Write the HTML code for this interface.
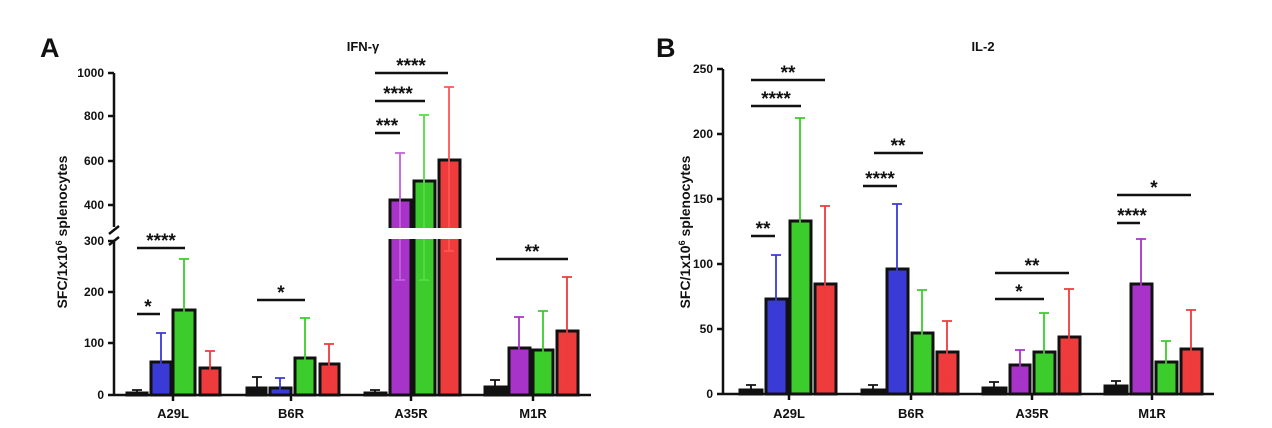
<!DOCTYPE html>
<html><head><meta charset="utf-8"><style>
body{margin:0;background:#fff}
svg{display:block}
text{font-family:"Liberation Sans",Arial,sans-serif;font-weight:bold;fill:#111}
.t{font-size:12px;text-anchor:end}
.c{font-size:13px;text-anchor:middle}
.s{font-size:19px;text-anchor:middle;letter-spacing:0px}
.ax{stroke:#111;stroke-width:2.5;fill:none}
.sig{stroke:#111;stroke-width:2.5}
.bar{stroke:#111;stroke-width:3}
</style></head><body>
<svg width="1272" height="428" viewBox="0 0 1272 428">
<!-- Panel A -->
<text x="40" y="57" style="font-size:27px">A</text>
<text x="363" y="51" class="c" style="font-size:13px">IFN-γ</text>
<text transform="translate(67,232) rotate(-90)" style="font-size:14px;text-anchor:middle">SFC/1x10<tspan dy="-5" style="font-size:9px">6</tspan><tspan dy="5"> splenocytes</tspan></text>
<path class="ax" d="M114 395V241M114 227V73M108 395H114M108 343H114M108 292H114M108 241H114M108 205H114M108 161H114M108 116H114M108 73H114"/>
<path d="M109 234L119 226M109 245L119 237" stroke="#111" stroke-width="2.5"/>
<path class="ax" d="M114 395H591M173 395V401M291 395V401M411 395V401M533 395V401"/>
<g class="t"><text x="104" y="399" class="t">0</text><text x="104" y="347" class="t">100</text><text x="104" y="296" class="t">200</text><text x="104" y="245" class="t">300</text><text x="104" y="209" class="t">400</text><text x="104" y="165" class="t">600</text><text x="104" y="120" class="t">800</text><text x="104" y="77" class="t">1000</text></g>
<g class="c"><text x="173" y="418" class="c">A29L</text><text x="291" y="418" class="c">B6R</text><text x="411" y="418" class="c">A35R</text><text x="533" y="418" class="c">M1R</text></g>
<!-- bars A -->
<g>
<path d="M137 390V395M132 390H142" stroke="#111" stroke-width="1.8"/>
<rect class="bar" x="127" y="393" width="20" height="2" fill="#111"/>
<rect class="bar" x="151" y="362" width="20" height="33" fill="#3a3ad6"/>
<path d="M161 333V388M156 333H166" stroke="#3a3ad6" stroke-width="1.8"/>
<rect class="bar" x="173" y="310" width="22" height="85" fill="#3ccc2c"/>
<path d="M184 259V360M179 259H189" stroke="#3ccc2c" stroke-width="1.8"/>
<rect class="bar" x="200" y="368" width="20" height="27" fill="#ee3b3b"/>
<path d="M210 351V382M205 351H215" stroke="#ee3b3b" stroke-width="1.8"/>

<path d="M257 377V388M252 377H262" stroke="#111" stroke-width="1.8"/>
<rect class="bar" x="247" y="388" width="19" height="7" fill="#111"/>
<rect class="bar" x="270" y="388" width="21" height="7" fill="#3a3ad6"/>
<path d="M280 378V392M275 378H285" stroke="#3a3ad6" stroke-width="1.8"/>
<rect class="bar" x="295" y="358" width="20" height="37" fill="#3ccc2c"/>
<path d="M305 318V380M300 318H310" stroke="#3ccc2c" stroke-width="1.8"/>
<rect class="bar" x="320" y="364" width="19" height="31" fill="#ee3b3b"/>
<path d="M329 344V384M324 344H334" stroke="#ee3b3b" stroke-width="1.8"/>

<path d="M375 390V393M370 390H380" stroke="#111" stroke-width="1.8"/>
<rect class="bar" x="365" y="393" width="21" height="2" fill="#111"/>
<rect class="bar" x="390" y="200" width="21" height="195" fill="#a733c9"/>
<path d="M400 153V280M395 153H405M395 280H405" stroke="#c060dd" stroke-width="1.8"/>
<rect class="bar" x="414" y="181" width="21" height="214" fill="#3ccc2c"/>
<path d="M424 115V280M419 115H429M419 280H429" stroke="#55dd44" stroke-width="1.8"/>
<rect class="bar" x="439" y="160" width="21" height="235" fill="#ee3b3b"/>
<path d="M449 87V251M444 87H454M444 251H454" stroke="#f55" stroke-width="1.8"/>
<rect x="380" y="228" width="90" height="11" fill="#fff"/>

<path d="M495 380V387M490 380H500" stroke="#111" stroke-width="1.8"/>
<rect class="bar" x="485" y="387" width="21" height="8" fill="#111"/>
<rect class="bar" x="509" y="348" width="21" height="47" fill="#a733c9"/>
<path d="M519 317V379M514 317H524" stroke="#a733c9" stroke-width="1.8"/>
<rect class="bar" x="533" y="350" width="20" height="45" fill="#3ccc2c"/>
<path d="M543 311V387M538 311H548" stroke="#3ccc2c" stroke-width="1.8"/>
<rect class="bar" x="557" y="331" width="21" height="64" fill="#ee3b3b"/>
<path d="M567 277V385M562 277H572" stroke="#ee3b3b" stroke-width="1.8"/>
</g>
<!-- sig A -->
<path class="sig" d="M137 314H160M137 248H185M257 300H305M496 259H568M375 133H400M375 101H425M375 73H448"/>
<text x="148" y="313" class="s">*</text><text x="161" y="247" class="s">****</text><text x="281" y="299" class="s">*</text><text x="532" y="258" class="s">**</text>
<text x="387" y="132" class="s">***</text><text x="398" y="100" class="s">****</text><text x="411" y="72" class="s">****</text>

<!-- Panel B -->
<text x="656" y="57" style="font-size:27px">B</text>
<text x="983" y="51" class="c">IL-2</text>
<text transform="translate(690,232) rotate(-90)" style="font-size:14px;text-anchor:middle">SFC/1x10<tspan dy="-5" style="font-size:9px">6</tspan><tspan dy="5"> splenocytes</tspan></text>
<path class="ax" d="M723 394V69M717 394H723M717 329H723M717 264H723M717 199H723M717 134H723M717 69H723M723 394H1214M789 394V400M911 394V400M1032 394V400M1152 394V400"/>
<text x="713" y="398" class="t">0</text><text x="713" y="333" class="t">50</text><text x="713" y="268" class="t">100</text><text x="713" y="203" class="t">150</text><text x="713" y="138" class="t">200</text><text x="713" y="73" class="t">250</text>
<text x="789" y="418" class="c">A29L</text><text x="911" y="418" class="c">B6R</text><text x="1032" y="418" class="c">A35R</text><text x="1152" y="418" class="c">M1R</text>
<g>
<path d="M751 385V390M746 385H756" stroke="#111" stroke-width="1.8"/>
<rect class="bar" x="740" y="390" width="22" height="4" fill="#111"/>
<rect class="bar" x="766" y="299" width="21" height="95" fill="#3a3ad6"/>
<path d="M776 255V342M771 255H781M771 342H781" stroke="#3a3ad6" stroke-width="1.8"/>
<rect class="bar" x="790" y="221" width="21" height="173" fill="#3ccc2c"/>
<path d="M800 118V321M795 118H805" stroke="#3ccc2c" stroke-width="1.8"/>
<rect class="bar" x="815" y="284" width="21" height="110" fill="#ee3b3b"/>
<path d="M825 206V360M820 206H830M820 360H830" stroke="#ee3b3b" stroke-width="1.8"/>

<path d="M873 385V390M868 385H878" stroke="#111" stroke-width="1.8"/>
<rect class="bar" x="862" y="390" width="22" height="4" fill="#111"/>
<rect class="bar" x="887" y="269" width="21" height="125" fill="#3a3ad6"/>
<path d="M897 204V332M892 204H902M892 332H902" stroke="#3a3ad6" stroke-width="1.8"/>
<rect class="bar" x="912" y="333" width="21" height="61" fill="#3ccc2c"/>
<path d="M922 290V372M917 290H927" stroke="#3ccc2c" stroke-width="1.8"/>
<rect class="bar" x="937" y="352" width="21" height="42" fill="#ee3b3b"/>
<path d="M947 321V382M942 321H952M942 382H952" stroke="#ee3b3b" stroke-width="1.8"/>

<path d="M994 382V388M989 382H999" stroke="#111" stroke-width="1.8"/>
<rect class="bar" x="983" y="388" width="23" height="6" fill="#111"/>
<rect class="bar" x="1010" y="365" width="20" height="29" fill="#a733c9"/>
<path d="M1020 350V377M1015 350H1025M1015 377H1025" stroke="#a733c9" stroke-width="1.8"/>
<rect class="bar" x="1034" y="352" width="21" height="42" fill="#3ccc2c"/>
<path d="M1044 313V389M1039 313H1049" stroke="#3ccc2c" stroke-width="1.8"/>
<rect class="bar" x="1059" y="337" width="21" height="57" fill="#ee3b3b"/>
<path d="M1069 289V382M1064 289H1074M1064 382H1074" stroke="#ee3b3b" stroke-width="1.8"/>

<path d="M1116 381V386M1111 381H1121" stroke="#111" stroke-width="1.8"/>
<rect class="bar" x="1105" y="386" width="22" height="8" fill="#111"/>
<rect class="bar" x="1131" y="284" width="21" height="110" fill="#a733c9"/>
<path d="M1141 239V325M1136 239H1146M1136 325H1146" stroke="#a733c9" stroke-width="1.8"/>
<rect class="bar" x="1156" y="362" width="21" height="32" fill="#3ccc2c"/>
<path d="M1166 341V380M1161 341H1171M1161 380H1171" stroke="#3ccc2c" stroke-width="1.8"/>
<rect class="bar" x="1181" y="349" width="21" height="45" fill="#ee3b3b"/>
<path d="M1191 310V386M1186 310H1196" stroke="#ee3b3b" stroke-width="1.8"/>
</g>
<path class="sig" d="M751 236H775M751 106H801M751 80H825M863 186H897M874 153H923M995 299H1044M995 273H1069M1117 223H1140M1117 195H1191"/>
<text x="763" y="235" class="s">**</text><text x="776" y="105" class="s">****</text><text x="788" y="79" class="s">**</text>
<text x="880" y="185" class="s">****</text><text x="898" y="152" class="s">**</text>
<text x="1019" y="298" class="s">*</text><text x="1032" y="272" class="s">**</text>
<text x="1132" y="222" class="s">****</text><text x="1154" y="194" class="s">*</text>
</svg>
</body></html>
